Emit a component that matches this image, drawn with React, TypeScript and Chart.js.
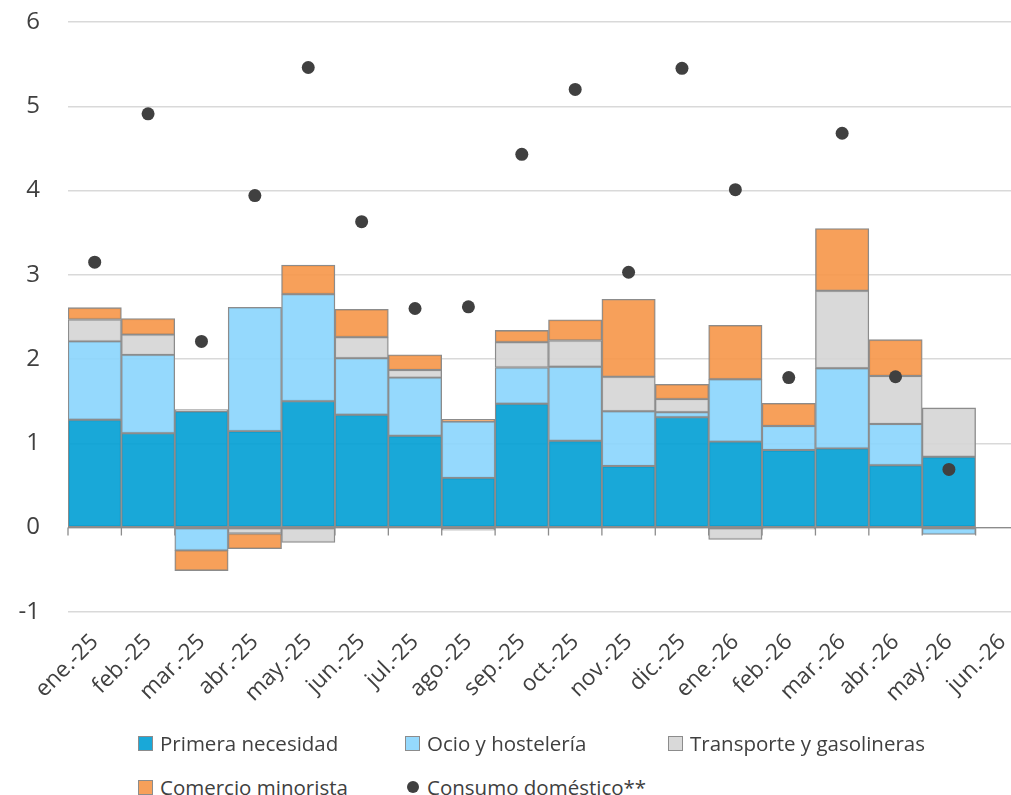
import React, { useEffect, useRef } from "react";
import { Chart, registerables } from "chart.js";

Chart.register(...registerables);

const categories = [
  "ene.-25", "feb.-25", "mar.-25", "abr.-25", "may.-25", "jun.-25", "jul.-25", "ago.-25", "sep.-25",
  "oct.-25", "nov.-25", "dic.-25", "ene.-26", "feb.-26", "mar.-26", "abr.-26", "may.-26", "jun.-26",
];

const primeraNecesidad = [1.28, 1.12, 1.38, 1.145, 1.5, 1.34, 1.09, 0.59, 1.47, 1.03, 0.73, 1.31, 1.02, 0.92, 0.94, 0.74, 0.84, null];
const ocioHosteleria = [0.93, 0.93, -0.27, 1.47, 1.27, 0.67, 0.69, 0.67, 0.43, 0.88, 0.65, 0.06, 0.74, 0.285, 0.95, 0.49, -0.08, null];
const transporteGasolineras = [0.26, 0.24, 0.02, -0.07, -0.175, 0.25, 0.09, -0.03, 0.3, 0.31, 0.41, 0.155, -0.14, -0.02, 0.92, 0.57, 0.58, null];
const comercioMinorista = [0.14, 0.19, -0.24, -0.18, 0.345, 0.33, 0.18, 0.025, 0.14, 0.245, 0.92, 0.175, 0.64, 0.27, 0.74, 0.43, null, null];
const consumoDomestico = [3.15, 4.91, 2.21, 3.94, 5.46, 3.63, 2.6, 2.62, 4.43, 5.2, 3.03, 5.45, 4.01, 1.78, 4.68, 1.79, 0.69, null];

const yTicks = [-1, 0, 1, 2, 3, 4, 5, 6];

const seriesNames = ["Primera necesidad", "Ocio y hostelería", "Transporte y gasolineras", "Comercio minorista", "Consumo doméstico**"];
const seriesColors = ["rgba(0,158,212,0.9)", "rgba(140,214,253,0.92)", "rgba(214,214,214,0.92)", "rgba(246,150,72,0.9)", "#404040"];
const borderGrey = "#8c8c8c";
const textColor = "#404040";
const FONT = "'Open Sans', 'DejaVu Sans', sans-serif";

const zeroAxisPlugin = {
  id: "zeroAxis",
  beforeDatasetsDraw(chart: any) {
    const { ctx, chartArea, scales } = chart;
    const x = scales.x;
    const y = scales.y;
    const y0 = y.getPixelForValue(0);
    const step = x.getPixelForValue(1) - x.getPixelForValue(0);
    ctx.save();
    ctx.strokeStyle = "#8c8c8c";
    ctx.lineWidth = 1.3;
    ctx.beginPath();
    ctx.moveTo(chartArea.left, y0);
    ctx.lineTo(chartArea.right, y0);
    for (let i = 0; i <= categories.length; i++) {
      const px = x.getPixelForValue(0) - step / 2 + i * step;
      ctx.moveTo(px, y0);
      ctx.lineTo(px, y0 + 8);
    }
    ctx.stroke();
    ctx.restore();
  },
};

function LegendItem({ idx, left, top }: { idx: number; left: number; top: number }) {
  const isDot = idx === 4;
  return (
    <div style={{ position: "absolute", left, top, display: "flex", alignItems: "center", height: 24 }}>
      {isDot ? (
        <span style={{ width: 12, height: 12, borderRadius: 6, background: seriesColors[idx], marginRight: 8, marginLeft: 2 }} />
      ) : (
        <span
          style={{
            width: 13,
            height: 13,
            background: seriesColors[idx],
            border: `1px solid ${borderGrey}`,
            marginRight: 7,
          }}
        />
      )}
      <span style={{ fontFamily: FONT, fontSize: 20.5, color: textColor, whiteSpace: "nowrap" }}>{seriesNames[idx]}</span>
    </div>
  );
}

export default function App() {
  const ref = useRef<HTMLCanvasElement | null>(null);

  useEffect(() => {
    if (!ref.current) return;
    const barDs = (label: string, data: (number | null)[], color: string) => ({
      type: "bar" as const,
      label,
      data,
      backgroundColor: color,
      borderColor: borderGrey,
      borderWidth: 1.3,
      borderSkipped: false,
      barPercentage: 1,
      categoryPercentage: 1,
      stack: "s",
      order: 1,
    });
    const chart = new Chart(ref.current, {
      type: "bar",
      data: {
        labels: categories,
        datasets: [
          {
            type: "line" as const,
            label: seriesNames[4],
            data: consumoDomestico,
            showLine: false,
            pointRadius: 6.5,
            pointHoverRadius: 6.5,
            pointBackgroundColor: seriesColors[4],
            pointBorderColor: seriesColors[4],
            pointBorderWidth: 0,
            stack: "dots",
            order: 0,
          } as any,
          barDs(seriesNames[0], primeraNecesidad, seriesColors[0]),
          barDs(seriesNames[1], ocioHosteleria, seriesColors[1]),
          barDs(seriesNames[2], transporteGasolineras, seriesColors[2]),
          barDs(seriesNames[3], comercioMinorista, seriesColors[3]),
        ],
      },
      options: {
        responsive: false,
        animation: false,
        layout: { padding: { left: 0, right: 11, top: 22, bottom: 14 } },
        plugins: { legend: { display: false }, tooltip: { enabled: false } },
        scales: {
          x: {
            stacked: true,
            grid: { display: false },
            border: { display: false },
            afterFit: (scale: any) => {
              scale.paddingLeft = 0;
              scale.paddingRight = 0;
            },
            ticks: {
              color: textColor,
              font: { family: FONT, size: 22.5 },
              maxRotation: 45,
              minRotation: 45,
              autoSkip: false,
              padding: 9,
            },
          },
          y: {
            stacked: true,
            min: yTicks[0],
            max: yTicks[yTicks.length - 1],
            afterBuildTicks: (scale: any) => {
              scale.ticks = yTicks.map((v) => ({ value: v }));
            },
            afterFit: (scale: any) => {
              scale.paddingTop = 0;
              scale.paddingBottom = 0;
              scale.width = 68;
            },
            grid: { color: "#d9d9d9", lineWidth: 1.5, drawTicks: false },
            border: { display: false },
            ticks: {
              color: textColor,
              font: { family: FONT, size: 24 },
              padding: 28,
            },
          },
        },
      },
      plugins: [zeroAxisPlugin],
    });
    return () => chart.destroy();
  }, []);

  return (
    <div style={{ position: "fixed", left: 0, top: 0, width: 1011, height: 795, overflow: "hidden", background: "#fff" }}>
      <canvas ref={ref} width={1040} height={730} style={{ position: "absolute", left: 0, top: 0, width: 1040, height: 730 }} />
      <LegendItem idx={0} left={138} top={731} />
      <LegendItem idx={1} left={405} top={731} />
      <LegendItem idx={2} left={668} top={731} />
      <LegendItem idx={3} left={138} top={775} />
      <LegendItem idx={4} left={405} top={775} />
    </div>
  );
}
